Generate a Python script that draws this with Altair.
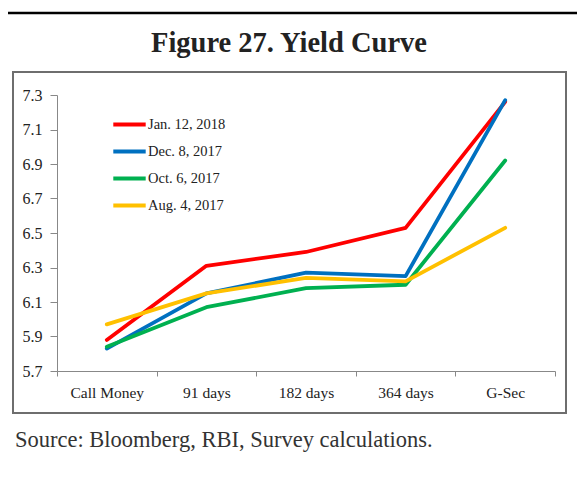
import altair as alt
import pandas as pd

categories = ["Call Money", "91 days", "182 days", "364 days", "G-Sec"]
series = ["Jan. 12, 2018", "Dec. 8, 2017", "Oct. 6, 2017", "Aug. 4, 2017"]
colors = ["#FF0000", "#0070C0", "#00B050", "#FFC000"]
jan_2018 = [5.88, 6.31, 6.39, 6.53, 7.26]
dec_2017 = [5.83, 6.15, 6.27, 6.25, 7.27]
oct_2017 = [5.84, 6.07, 6.18, 6.20, 6.92]
aug_2017 = [5.97, 6.15, 6.24, 6.22, 6.53]
y_ticks = [5.7, 5.9, 6.1, 6.3, 6.5, 6.7, 6.9, 7.1, 7.3]

title_text = "Figure 27. Yield Curve"
source_text = "Source: Bloomberg, RBI, Survey calculations."

rows = []
for s, vals in zip(series, [jan_2018, dec_2017, oct_2017, aug_2017]):
    for i, (c, v) in enumerate(zip(categories, vals)):
        rows.append({"series": s, "cat": c, "value": v, "order": i, "sidx": series.index(s)})
df = pd.DataFrame(rows)

FONT = "Liberation Serif"

lines = alt.Chart(df).mark_line(strokeWidth=3.8, strokeCap="round", strokeJoin="round").encode(
    x=alt.X("cat:N", sort=categories,
            scale=alt.Scale(type="band", paddingInner=0, paddingOuter=0),
            axis=alt.Axis(title=None, tickBand="extent", labelAngle=0, grid=False,
                          domainColor="#888", tickColor="#888", tickSize=5,
                          labelPadding=9, labelFont=FONT, labelFontSize=15.5,
                          labelColor="#222")),
    y=alt.Y("value:Q", scale=alt.Scale(domain=[5.7, 7.3], nice=False, zero=False),
            axis=alt.Axis(title=None, values=y_ticks, format=".1f", grid=False,
                          domainColor="#888", tickColor="#888", tickSize=7,
                          labelPadding=8, labelFont=FONT, labelFontSize=16,
                          labelColor="#222")),
    color=alt.Color("series:N", sort=series,
                    scale=alt.Scale(domain=series, range=colors),
                    legend=alt.Legend(title=None, orient="none", legendX=54, legendY=11,
                                      symbolType="stroke", symbolStrokeWidth=4,
                                      symbolSize=1050, rowPadding=0, labelOffset=0,
                                      labelFont=FONT, labelFontSize=14.5,
                                      labelColor="#222")),
    detail="sidx:O",
    order="order:Q",
)

one = pd.DataFrame({"a": [0]})

box = alt.Chart(one).mark_rect(filled=False, stroke="#6e6e6e", strokeWidth=2).encode(
    x=alt.value(-44), x2=alt.value(509), y=alt.value(-23), y2=alt.value(318))

top_rule = alt.Chart(one).mark_rule(color="#000000", strokeWidth=2.5).encode(
    x=alt.value(-57), x2=alt.value(528), y=alt.value(-82))

title = alt.Chart(one).mark_text(text=title_text, font=FONT, fontSize=28.5, fontWeight="bold",
                                 align="center", baseline="middle", color="#222").encode(
    x=alt.value(232), y=alt.value(-52))

source = alt.Chart(one).mark_text(text=source_text, font=FONT, fontSize=22.5,
                                  align="left", baseline="middle", color="#333").encode(
    x=alt.value(-42), y=alt.value(345))

chart = alt.layer(top_rule, box, title, source, lines).properties(
    width=498, height=276,
    autosize=alt.AutoSizeParams(type="none"),
    padding={"left": 49, "top": 87, "right": 22, "bottom": 100},
).configure_view(strokeWidth=0)

chart.save("out.html", embed_options={"renderer": "svg", "actions": False})
